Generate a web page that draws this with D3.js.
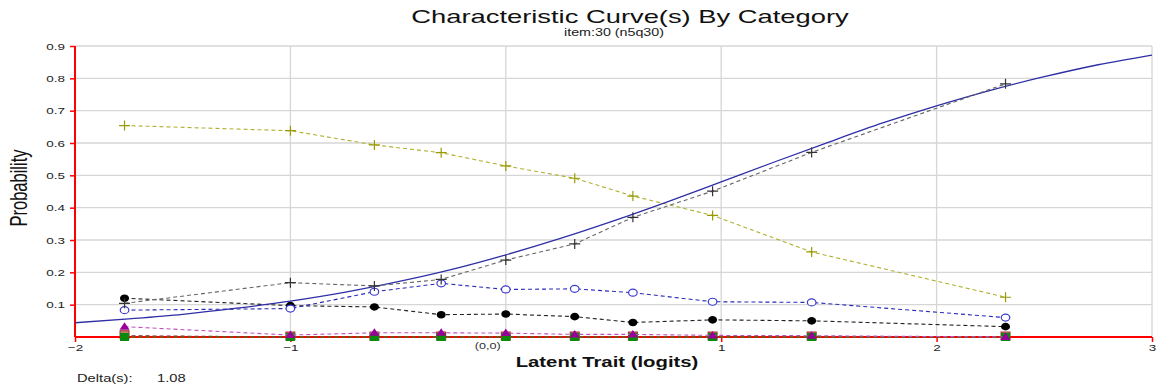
<!DOCTYPE html>
<html>
<head>
<meta charset="utf-8">
<script src="https://cdn.jsdelivr.net/npm/d3@7"></script>
<style>
  html, body { margin: 0; padding: 0; background: #fff; }
  svg { display: block; font-family: "Liberation Sans", Arial, sans-serif; }
</style>
</head>
<body>
<svg id="chart" width="1161" height="387"></svg>
<script>
// ---- data ----
const titleText = "Characteristic Curve(s) By Category";
const subtitleText = "item:30 (n5q30)";
const xLabel = "Latent Trait (logits)";
const yLabel = "Probability";
const deltaLabel = "Delta(s):";
const deltaValue = "1.08";
const originLabel = "(0,0)";

const xTicks = [-2, -1, 1, 2, 3];
const yTicks = [0.1, 0.2, 0.3, 0.4, 0.5, 0.6, 0.7, 0.8, 0.9];
const xGrid = [-1, 0, 1, 2];

// model curve
const curveX = [-2, -1.75, -1.5, -1.25, -1, -0.75, -0.5, -0.25, 0, 0.25, 0.5, 0.75, 1, 1.25, 1.5, 1.75, 2, 2.25, 2.5, 2.75, 3];
const curveY = [0.044, 0.056, 0.070, 0.089, 0.111, 0.138, 0.171, 0.209, 0.254, 0.304, 0.359, 0.418, 0.480, 0.542, 0.603, 0.662, 0.715, 0.763, 0.805, 0.842, 0.872];

// observed points
const obsX = [-1.77, -1.0, -0.61, -0.30, 0.0, 0.32, 0.59, 0.96, 1.42, 2.32];
const obsExpected = [0.104, 0.168, 0.158, 0.178, 0.238, 0.288, 0.370, 0.451, 0.571, 0.783];
const obsCat0 = [0.004, 0, 0, 0, 0, 0, 0, 0, 0, 0];
const obsCat1 = [0, 0, 0, 0, 0, 0, 0, 0, 0, 0];
const obsCat2 = [0.032, 0.006, 0.013, 0.013, 0.012, 0.008, 0.008, 0.005, 0.004, 0];
const obsCat3 = [0.120, 0.097, 0.093, 0.069, 0.071, 0.063, 0.045, 0.053, 0.050, 0.032];
const obsCat4 = [0.083, 0.088, 0.140, 0.166, 0.147, 0.149, 0.137, 0.109, 0.107, 0.060];
const obsCat5 = [0.654, 0.638, 0.594, 0.570, 0.529, 0.491, 0.436, 0.376, 0.263, 0.123];

// ---- layout ----
const STRETCH = 1.4; // the reference's lettering is horizontally widened
const svg = d3.select("#chart");
const x = d3.scaleLinear().domain([-2, 3]).range([75, 1152]);
const y = d3.scaleLinear().domain([0, 0.9]).range([337, 46]);

function stretch(sel, k = STRETCH) {
  sel.each(function () {
    const w = this.getComputedTextLength();
    d3.select(this).attr("textLength", w * k).attr("lengthAdjust", "spacingAndGlyphs");
  });
  return sel;
}

// gridlines
const grid = svg.append("g");
grid.selectAll("line.h").data(yTicks).join("line")
  .attr("x1", x(-2)).attr("x2", x(3))
  .attr("y1", d => y(d)).attr("y2", d => y(d))
  .attr("stroke", "#d6d6d6").attr("stroke-width", 1.3);
grid.selectAll("line.v").data(xGrid.concat([3])).join("line")
  .attr("x1", d => x(d)).attr("x2", d => x(d))
  .attr("y1", y(0)).attr("y2", y(0.9))
  .attr("stroke", "#d6d6d6").attr("stroke-width", 1.3);

// axes
const yAxis = svg.append("g").attr("transform", `translate(${x(-2)},0)`)
  .call(d3.axisLeft(y).tickValues(yTicks).tickFormat(d3.format(".1f")).tickSize(5).tickPadding(5));
yAxis.select(".domain").remove();
yAxis.selectAll(".tick line").attr("stroke", "#ff0000").attr("stroke-width", 1.5);
yAxis.selectAll(".tick text").attr("font-size", 9.6).attr("fill", "#222")
  .attr("font-family", "Liberation Sans, Arial, sans-serif");
stretch(yAxis.selectAll(".tick text"));

const xAxis = svg.append("g").attr("transform", `translate(0,${y(0)})`)
  .call(d3.axisBottom(x).tickValues(xTicks).tickFormat(d3.format("d")).tickSize(5).tickPadding(2));
xAxis.select(".domain").remove();
xAxis.selectAll(".tick line").attr("stroke", "#ff0000").attr("stroke-width", 1.5);
xAxis.selectAll(".tick text").attr("font-size", 9.6).attr("fill", "#222")
  .attr("font-family", "Liberation Sans, Arial, sans-serif");
stretch(xAxis.selectAll(".tick text"));

// red axis lines
svg.append("line").attr("x1", x(-2)).attr("x2", x(-2)).attr("y1", y(0.9)).attr("y2", y(0))
  .attr("stroke", "#ff0000").attr("stroke-width", 2);
svg.append("line").attr("x1", x(-2)).attr("x2", x(3)).attr("y1", y(0)).attr("y2", y(0))
  .attr("stroke", "#ff0000").attr("stroke-width", 2);

// origin label
stretch(svg.append("text").attr("x", x(0) - 18).attr("y", y(0) + 12)
  .attr("font-size", 9).attr("fill", "#333").attr("text-anchor", "middle").text(originLabel));

// ---- series ----
const line = d3.line().x(d => x(d[0])).y(d => y(d[1]));

function drawSeries(vals, lineColor, markerColor, marker) {
  const pts = obsX.map((v, i) => [v, vals[i]]);
  svg.append("path").datum(pts).attr("d", line)
    .attr("fill", "none").attr("stroke", lineColor).attr("stroke-width", 1.1)
    .attr("stroke-dasharray", "4,3");
  const g = svg.append("g");
  pts.forEach(p => {
    const cx = x(p[0]), cy = y(p[1]);
    if (marker === "plus") {
      g.append("path").attr("d", `M${cx - 5.5},${cy}H${cx + 5.5}M${cx},${cy - 5}V${cy + 5}`)
        .attr("stroke", markerColor).attr("stroke-width", 1.2).attr("fill", "none");
    } else if (marker === "dot") {
      g.append("ellipse").attr("cx", cx).attr("cy", cy).attr("rx", 4.5).attr("ry", 3.8).attr("fill", markerColor);
    } else if (marker === "ring") {
      g.append("ellipse").attr("cx", cx).attr("cy", cy).attr("rx", 4.3).attr("ry", 3.5)
        .attr("fill", "#fff").attr("stroke", markerColor).attr("stroke-width", 1.2);
    } else if (marker === "tri") {
      g.append("path").attr("d", `M${cx},${cy - 4.5}L${cx + 5},${cy + 3}L${cx - 5},${cy + 3}Z`)
        .attr("fill", markerColor);
    } else if (marker === "square") {
      g.append("rect").attr("x", cx - 4.5).attr("y", cy - 4).attr("width", 9).attr("height", 8)
        .attr("fill", markerColor);
    } else if (marker === "square0") {
      g.append("rect").attr("x", cx - 4.5).attr("y", cy - 5).attr("width", 9).attr("height", 8)
        .attr("fill", "#c08070").attr("stroke", "#a03030").attr("stroke-width", 1);
    }
  });
}

drawSeries(obsCat0, "#8b1a1a", "#a03030", "square0");
drawSeries(obsCat1, "#2a9a2a", "#0a8a0a", "square");
drawSeries(obsCat2, "#c050c0", "#990099", "tri");
drawSeries(obsCat3, "#222222", "#000000", "dot");
drawSeries(obsCat4, "#2a2ab8", "#3a3ad0", "ring");
drawSeries(obsCat5, "#b0b030", "#9a9a00", "plus");

// model curve
svg.append("path").datum(curveX.map((v, i) => [v, curveY[i]]))
  .attr("d", d3.line().curve(d3.curveMonotoneX).x(d => x(d[0])).y(d => y(d[1])))
  .attr("fill", "none").attr("stroke", "#2e2ea6").attr("stroke-width", 1.3);

drawSeries(obsExpected, "#666666", "#333333", "plus");

// ---- texts ----
stretch(svg.append("text").attr("x", 630).attr("y", 23).attr("text-anchor", "middle")
  .attr("font-size", 18.6).attr("fill", "#111").text(titleText), 1.47);
stretch(svg.append("text").attr("x", 614).attr("y", 36).attr("text-anchor", "middle")
  .attr("font-size", 10.2).attr("fill", "#222").text(subtitleText));

stretch(svg.append("text").attr("x", 607).attr("y", 367).attr("text-anchor", "middle")
  .attr("font-size", 14.5).attr("font-weight", "bold").attr("fill", "#111").text(xLabel));

svg.append("text").attr("transform", `translate(27,188) scale(1.4,1) rotate(-90)`).attr("text-anchor", "middle")
  .attr("font-size", 16.5).attr("fill", "#111").text(yLabel);

stretch(svg.append("text").attr("x", 77).attr("y", 382).attr("font-size", 10.5).attr("fill", "#222").text(deltaLabel));
stretch(svg.append("text").attr("x", 157).attr("y", 382).attr("font-size", 10.5).attr("fill", "#222").text(deltaValue));
</script>
</body>
</html>
